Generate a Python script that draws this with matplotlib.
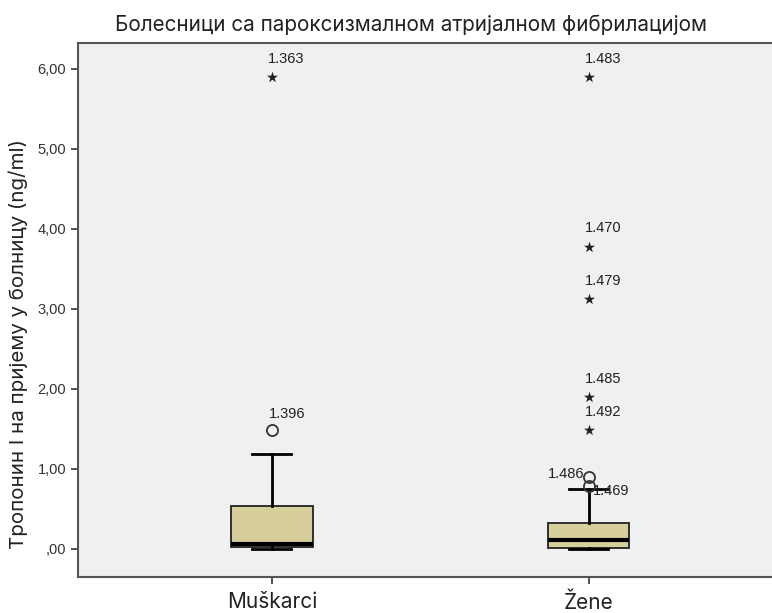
import matplotlib.pyplot as plt
from matplotlib.ticker import FuncFormatter

# box summary per group (ng/ml)
groups = ['Muškarci', 'Žene']
q1 = [0.02, 0.01]
medians = [0.06, 0.11]
q3 = [0.54, 0.32]
whisker_lo = [0.0, 0.0]
whisker_hi = [1.19, 0.75]

# outliers (circles) and extreme values (stars) with case numbers
mild_vals = [[1.49], [0.90, 0.79]]
mild_ids = [['1.396'], ['1.486', '1.469']]
extreme_vals = [[5.90], [5.90, 3.78, 3.12, 1.90, 1.49]]
extreme_ids = [['1.363'], ['1.483', '1.470', '1.479', '1.485', '1.492']]

title = 'Болесници са пароксизмалном атријалном фибрилацијом'
ylabel = 'Тропонин I на пријему у болницу (ng/ml)'
yticks = [0, 1, 2, 3, 4, 5, 6]

fig = plt.figure(figsize=(7.72, 6.13), dpi=100)
ax = fig.add_axes([78 / 772, 1 - 577 / 613, 694 / 772, 534 / 613])
ax.set_facecolor('#f0f0f0')

positions = [1, 2]
stats = []
for i, g in enumerate(groups):
    stats.append(dict(label=g, q1=q1[i], med=medians[i], q3=q3[i],
                      whislo=whisker_lo[i], whishi=whisker_hi[i],
                      fliers=mild_vals[i]))

ax.bxp(stats, positions=positions, widths=0.256, capwidths=0.123,
       patch_artist=True, showfliers=True,
       boxprops=dict(facecolor='#d6cf9c', edgecolor='#222222', linewidth=1.3),
       medianprops=dict(color='black', linewidth=3),
       whiskerprops=dict(color='black', linewidth=2),
       capprops=dict(color='black', linewidth=2),
       flierprops=dict(marker='o', markerfacecolor='none', markeredgecolor='#333333',
                       markersize=8, markeredgewidth=1.3))

ann_font = dict(family='Liberation Sans', fontsize=10.5, color='#222222')

for i, pos in enumerate(positions):
    ax.scatter([pos] * len(extreme_vals[i]), extreme_vals[i], marker='*',
               s=70, color='#222222', linewidths=0, zorder=3)
    for v, lab in zip(extreme_vals[i], extreme_ids[i]):
        ax.annotate(lab, (pos, v), xytext=(-3, 8), textcoords='offset points',
                    ha='left', va='bottom', **ann_font)

# circle labels: first above the mark, the close pair split left/right
ax.annotate(mild_ids[0][0], (positions[0], mild_vals[0][0]), xytext=(-2, 6),
            textcoords='offset points', ha='left', va='bottom', **ann_font)
ax.annotate(mild_ids[1][0], (positions[1], mild_vals[1][0]), xytext=(-3, 2),
            textcoords='offset points', ha='right', va='center', **ann_font)
ax.annotate(mild_ids[1][1], (positions[1], mild_vals[1][1]), xytext=(3, -4),
            textcoords='offset points', ha='left', va='center', **ann_font)

ax.set_xlim(0.388, 2.578)
ax.set_ylim(-0.35, 6.325)
ax.set_yticks(yticks)


def comma_fmt(v, _):
    s = f'{v:.2f}'.replace('.', ',')
    return s[1:] if s.startswith('0') else s


ax.yaxis.set_major_formatter(FuncFormatter(comma_fmt))
ax.set_xticks(positions)
ax.set_xticklabels(groups, fontsize=15, family='Inter', color='#222222')
for t in ax.get_yticklabels():
    t.set_fontfamily('Liberation Sans')
    t.set_fontsize(10.5)
    t.set_color('#333333')
ax.tick_params(axis='both', direction='out', length=5, width=1.3, color='#444444')
ax.tick_params(axis='x', pad=6)

for side in ['left', 'bottom', 'top']:
    ax.spines[side].set_color('#555555')
    ax.spines[side].set_linewidth(1.5)
ax.spines['right'].set_visible(False)

ax.set_ylabel(ylabel, fontsize=14.8, family='Inter', color='#222222')
ax.yaxis.set_label_coords(-0.072, 0.436)
fig.text(411 / 772, 1 - 31 / 613, title, ha='center', va='baseline',
         fontsize=14.9, family='Inter', color='#222222')

fig.savefig('out.png', dpi=100, facecolor='white')
